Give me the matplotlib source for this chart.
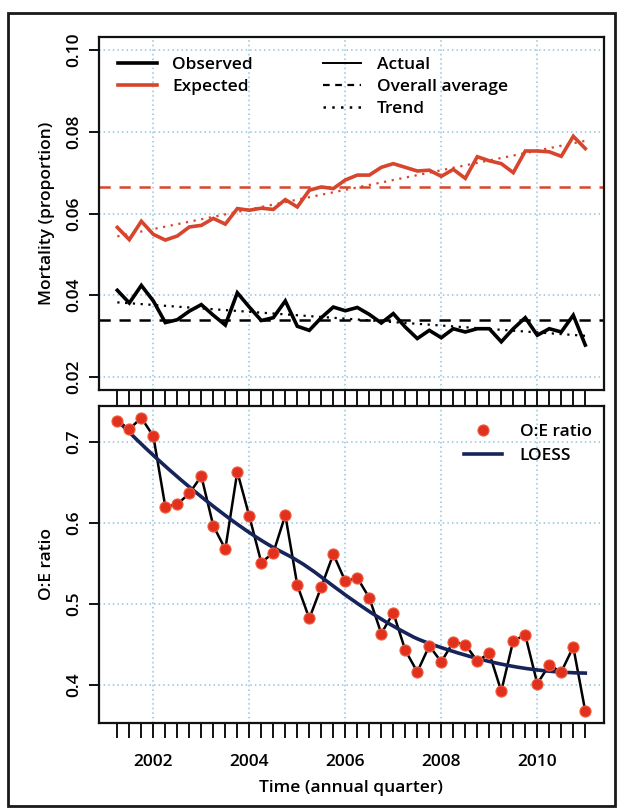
import numpy as np
import matplotlib
matplotlib.use("Agg")
import matplotlib.pyplot as plt
from matplotlib.lines import Line2D
from matplotlib.patches import Rectangle

plt.rcParams['font.family'] = ['Open Sans', 'DejaVu Sans']
plt.rcParams['font.weight'] = 'semibold'
plt.rcParams['axes.labelweight'] = 'semibold'

# ---------------- data ----------------
# quarters 2001 Q2 ... 2011 Q1 positions (year + fraction)
time = 2001.25 + 0.25 * np.arange(40)

observed = [0.0412, 0.0381, 0.0424, 0.0386, 0.0333, 0.0340, 0.0361, 0.0377, 0.0351, 0.0327,
            0.0406, 0.0371, 0.0338, 0.0345, 0.0386, 0.0324, 0.0314, 0.0345, 0.0371, 0.0362,
            0.0370, 0.0353, 0.0332, 0.0355, 0.0322, 0.0294, 0.0314, 0.0296, 0.0318, 0.0310,
            0.0318, 0.0318, 0.0286, 0.0318, 0.0345, 0.0302, 0.0318, 0.0310, 0.0351, 0.0278]

expected = [0.0566, 0.0536, 0.0581, 0.0549, 0.0535, 0.0545, 0.0567, 0.0571, 0.0588, 0.0574,
            0.0612, 0.0608, 0.0613, 0.0610, 0.0634, 0.0616, 0.0657, 0.0665, 0.0661, 0.0682,
            0.0694, 0.0694, 0.0713, 0.0722, 0.0713, 0.0704, 0.0706, 0.0691, 0.0708, 0.0686,
            0.0739, 0.0729, 0.0722, 0.0700, 0.0753, 0.0753, 0.0751, 0.0740, 0.0789, 0.0759]

oe_ratio = [0.7259, 0.7156, 0.7296, 0.7070, 0.6199, 0.6231, 0.6363, 0.6577, 0.5964, 0.5677,
            0.6630, 0.6083, 0.5512, 0.5631, 0.6096, 0.5233, 0.4822, 0.5212, 0.5615, 0.5282,
            0.5323, 0.5077, 0.4637, 0.4892, 0.4431, 0.4164, 0.4485, 0.4287, 0.4534, 0.4501,
            0.4296, 0.4394, 0.3926, 0.4550, 0.4616, 0.4020, 0.4246, 0.4164, 0.4472, 0.3679]

observed_avg = 0.0339
expected_avg = 0.0664

top_yticks = [0.02, 0.04, 0.06, 0.08, 0.10]
top_yticklabels = ["0.02", "0.04", "0.06", "0.08", "0.10"]
bot_yticks = [0.4, 0.5, 0.6, 0.7]
bot_yticklabels = ["0.4", "0.5", "0.6", "0.7"]
year_ticks = [2002, 2004, 2006, 2008, 2010]
year_labels = ["2002", "2004", "2006", "2008", "2010"]

# ---------------- helpers ----------------
def loess(x, y, xe, span=0.75):
    x = np.asarray(x); y = np.asarray(y)
    n = len(x); q = int(np.floor(n * span))
    res = []
    for x0 in xe:
        d = np.abs(x - x0)
        h = np.sort(d)[q - 1]
        w = np.clip(1 - (d / h) ** 3, 0, None) ** 3
        A = np.vstack([np.ones(n), x - x0, (x - x0) ** 2]).T
        sw = np.sqrt(w)
        coef, *_ = np.linalg.lstsq(A * sw[:, None], y * sw, rcond=None)
        res.append(coef[0])
    return np.array(res)

RED = '#D6452C'
PT_RED = '#E2301F'
NAVY = '#17245A'
GRID = '#93C3DF'

W, H = 623, 811
fig = plt.figure(figsize=(W / 100, H / 100), dpi=100)

def px_axes(l, r, t, b):
    return fig.add_axes([l / W, 1 - b / H, (r - l) / W, (b - t) / H])

xlim = (2000.86, 2011.39)
ax1 = px_axes(98.6, 604.0, 37.0, 390.0)
ax2 = px_axes(98.6, 604.0, 406.0, 723.0)

for ax in (ax1, ax2):
    ax.set_xlim(*xlim)
    ax.set_xticks(year_ticks)
    ax.set_xticks(time, minor=True)
    ax.grid(True, which='major', color=GRID, linestyle=(0, (1, 2)), linewidth=1.1)
    ax.set_axisbelow(True)
    for s in ax.spines.values():
        s.set_linewidth(1.6)
        s.set_color('#111111')
    ax.tick_params(axis='x', which='both', direction='out', length=11, width=1.4, pad=11.5,
                   labelsize=12.5, color='#111111')
    ax.tick_params(axis='y', which='both', direction='out', length=7, width=1.4, pad=5,
                   labelsize=12.5, color='#111111')

# ---------------- top panel ----------------
t = np.array(time)
obs = np.array(observed); exp_ = np.array(expected)
ax1.plot(t, exp_, color=RED, lw=2.6, solid_joinstyle='miter', zorder=3)
ax1.plot(t, obs, color='black', lw=2.6, solid_joinstyle='miter', zorder=3)
ax1.axhline(expected_avg, color=RED, lw=1.8, linestyle=(0, (4.5, 3.5)), zorder=2)
ax1.axhline(observed_avg, color='black', lw=1.8, linestyle=(0, (4.5, 3.5)), zorder=2)
pe = np.polyfit(t, exp_, 1); po = np.polyfit(t, obs, 1)
ax1.plot(t, np.polyval(pe, t), color=RED, lw=1.6, linestyle=(0, (1, 2.5)), zorder=2)
ax1.plot(t, np.polyval(po, t), color='black', lw=1.6, linestyle=(0, (1, 2.5)), zorder=2)
ax1.set_ylim(0.0168, 0.1032)
ax1.set_yticks(top_yticks)
ax1.set_yticklabels(top_yticklabels, rotation=90, va='center')
ax1.set_xticklabels([])
ax1.set_ylabel("Mortality (proportion)", fontsize=12.5, labelpad=8)

h1 = [Line2D([], [], color='black', lw=2.6), Line2D([], [], color=RED, lw=2.6)]
leg1 = ax1.legend(h1, ["Observed", "Expected"], loc='upper left',
                  bbox_to_anchor=(0.015, 0.977), frameon=False, fontsize=12.5,
                  handlelength=2.2, handletextpad=0.9, labelspacing=0.32, borderaxespad=0.3)
ax1.add_artist(leg1)
h2 = [Line2D([], [], color='black', lw=1.4),
      Line2D([], [], color='black', lw=1.6, linestyle=(0, (3, 2.5))),
      Line2D([], [], color='black', lw=1.8, linestyle=(0, (1, 2.5)))]
ax1.legend(h2, ["Actual", "Overall average", "Trend"], loc='upper left',
           bbox_to_anchor=(0.42, 0.977), frameon=False, fontsize=12.5,
           handlelength=2.2, handletextpad=0.9, labelspacing=0.32, borderaxespad=0.3)

# ---------------- bottom panel ----------------
oe = np.array(oe_ratio)
ax2.plot(t, oe, color='black', lw=1.8, zorder=3)
te = np.linspace(t.min(), t.max(), 200)
ax2.plot(te, loess(t, oe, te), color=NAVY, lw=2.6, zorder=4)
ax2.plot(t, oe, 'o', color=PT_RED, markersize=8, markeredgecolor='#EE6040',
         markeredgewidth=0.8, zorder=5, linestyle='none')
ax2.set_ylim(0.3534, 0.7441)
ax2.set_yticks(bot_yticks)
ax2.set_yticklabels(bot_yticklabels, rotation=90, va='center')
ax2.set_xticklabels(year_labels)
ax2.set_ylabel("O:E ratio", fontsize=12.5, labelpad=8)
ax2.set_xlabel("Time (annual quarter)", fontsize=12.5, labelpad=7)

h3 = [Line2D([], [], marker='o', color=PT_RED, markersize=8, linestyle='none',
             markeredgecolor='#EE6040', markeredgewidth=0.8),
      Line2D([], [], color=NAVY, lw=2.6)]
ax2.legend(h3, ["O:E ratio", "LOESS"], loc='upper right', bbox_to_anchor=(1.0, 0.981),
           frameon=False, fontsize=12.5,
           handlelength=2.2, handletextpad=1.0, labelspacing=0.45, borderaxespad=0.3)

fig.align_ylabels([ax1, ax2])

# outer frame
fig.patches.append(Rectangle((8 / W, 1 - 806 / H), 607 / W, 793 / H, transform=fig.transFigure,
                             fill=False, lw=2.0, edgecolor='#1a1a1a'))

fig.savefig("out.png", dpi=100)
